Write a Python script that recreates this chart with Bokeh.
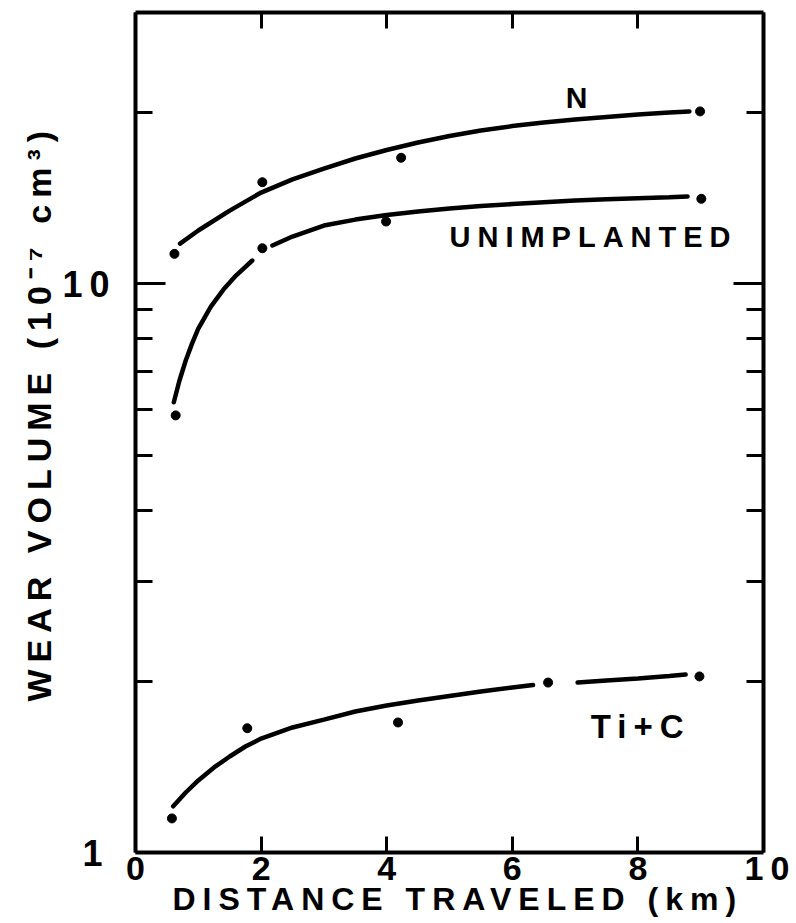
from bokeh.plotting import figure
from bokeh.models import FixedTicker, LinearAxis, LogAxis, Label, Title, BasicTickFormatter
from bokeh.embed import file_html
from bokeh.resources import INLINE

NAN = float("nan")

# ---- measured points ----
n_x = [0.62, 2.02, 4.23, 8.99]
n_y = [11.29, 15.09, 16.66, 20.1]

un_x = [0.64, 2.02, 3.99, 9.01]
un_y = [5.87, 11.55, 12.87, 14.11]

tic_x = [0.58, 1.78, 4.18, 6.57, 8.98]
tic_y = [1.148, 1.654, 1.693, 1.99, 2.04]

# ---- hand-drawn fit curves (NaN = break in the pen line) ----
n_curve_x = [0.71, 1.0, 1.5, 2.0, 2.5, 3.0, 3.5, 4.0, 4.5, 5.0, 5.5, 6.0,
             6.5, 7.0, 7.5, 8.0, 8.5, 8.82]
n_curve_y = [11.77, 12.41, 13.45, 14.47, 15.26, 15.95, 16.61, 17.19, 17.72, 18.19,
             18.60, 18.94, 19.21, 19.45, 19.65, 19.85, 20.01, 20.09]

un_curve_x = [0.61, 0.7, 0.8, 0.9, 1.0, 1.2, 1.4, 1.6, 1.86, NAN,
              2.18, 2.5, 3.0, 3.5, 4.0, 4.5, 5.0, 5.5, 6.0, 6.5, 7.0, 7.5, 8.0, 8.5, 8.79]
un_curve_y = [6.19, 6.76, 7.33, 7.85, 8.34, 9.12, 9.77, 10.34, 10.99, NAN,
              11.68, 12.11, 12.66, 12.97, 13.21, 13.40, 13.56, 13.70, 13.81, 13.92,
              14.01, 14.08, 14.14, 14.20, 14.24]

tic_curve_x = [0.6, 0.8, 1.0, 1.25, 1.5, 1.75, 2.0, 2.5, 3.0, 3.5, 4.0, 4.5, 5.0,
               5.5, 6.0, 6.33, NAN, 7.04, 7.5, 8.0, 8.5, 8.76]
tic_curve_y = [1.206, 1.275, 1.339, 1.411, 1.475, 1.536, 1.586, 1.659, 1.713, 1.770,
               1.814, 1.851, 1.885, 1.919, 1.950, 1.970, NAN, 1.990, 2.006, 2.023,
               2.044, 2.056]

x_ticks = [0, 2, 4, 6, 8, 10]
y_major = [1, 10]
y_minor = [2, 3, 4, 5, 6, 7, 8, 9, 20]

x_title = "DISTANCE TRAVELED (km)"
y_title = "WEAR VOLUME (10⁻⁷ cm³)"
series_labels = ["N", "UNIMPLANTED", "Ti+C"]

FONT = "Liberation Sans"

p = figure(width=796, height=923, x_range=(0, 10), y_range=(1, 30),
           y_axis_type="log", output_backend="svg", toolbar_location=None,
           min_border_left=135, min_border_right=33, min_border_top=12,
           min_border_bottom=71,
           stylesheets=[":host { letter-spacing: 7px; }"])
p.outline_line_color = None
p.xgrid.visible = False
p.ygrid.visible = False
p.background_fill_color = "white"
p.border_fill_color = "white"


def style_axis(ax, ticks, minor, tick_in, minor_in, show_labels, size="34px", standoff=0):
    ax.ticker = FixedTicker(ticks=ticks, minor_ticks=minor)
    ax.axis_line_width = 4
    ax.axis_line_color = "black"
    ax.major_tick_in = tick_in
    ax.major_tick_out = 0
    ax.minor_tick_in = minor_in
    ax.minor_tick_out = 0
    ax.major_tick_line_width = 3
    ax.minor_tick_line_width = 3
    ax.major_label_text_font = FONT
    ax.major_label_text_font_style = "bold"
    if show_labels:
        ax.major_label_text_color = "black"
        ax.major_label_text_font_size = size
        ax.major_label_standoff = standoff
    else:
        ax.major_label_text_color = None
        ax.major_label_text_font_size = "1px"
        ax.major_label_standoff = 0


style_axis(p.xaxis[0], x_ticks, [], 16, 0, True, size="34px", standoff=4)
style_axis(p.yaxis[0], y_major, y_minor, 30, 17, True, size="36px", standoff=33)
p.yaxis[0].formatter = BasicTickFormatter()

top = LinearAxis()
style_axis(top, x_ticks, [], 16, 0, False)
p.add_layout(top, "above")

right = LogAxis()
style_axis(right, [10], y_minor, 30, 17, False)
p.add_layout(right, "right")

# axis titles as side panels (kept outside the frame)
p.add_layout(Title(text=x_title, align="left", offset=37, standoff=-8,
                   text_font=FONT, text_font_style="bold", text_font_size="32px",
                   text_color="black"), "below")
p.add_layout(Title(text=y_title, align="left", offset=151, standoff=3,
                   text_font=FONT, text_font_style="bold", text_font_size="34px",
                   text_color="black"), "left")

# curves
for cx, cy in [(n_curve_x, n_curve_y), (un_curve_x, un_curve_y), (tic_curve_x, tic_curve_y)]:
    p.line(cx, cy, line_width=4.5, color="black", line_cap="round")

# points
for px_, py_ in [(n_x, n_y), (un_x, un_y), (tic_x, tic_y)]:
    p.scatter(px_, py_, size=9, color="black")


def add_label(text, x, y, size):
    p.add_layout(Label(x=x, y=y, text=text, text_align="left",
                       text_baseline="alphabetic", text_font=FONT, text_font_style="bold",
                       text_font_size=size, text_color="black"))


add_label(series_labels[0], 6.85, 21.24, "30px")
add_label(series_labels[1], 5.0, 12.11, "29px")
add_label(series_labels[2], 7.25, 1.663, "33px")

open("out.html", "w").write(file_html(p, INLINE))
